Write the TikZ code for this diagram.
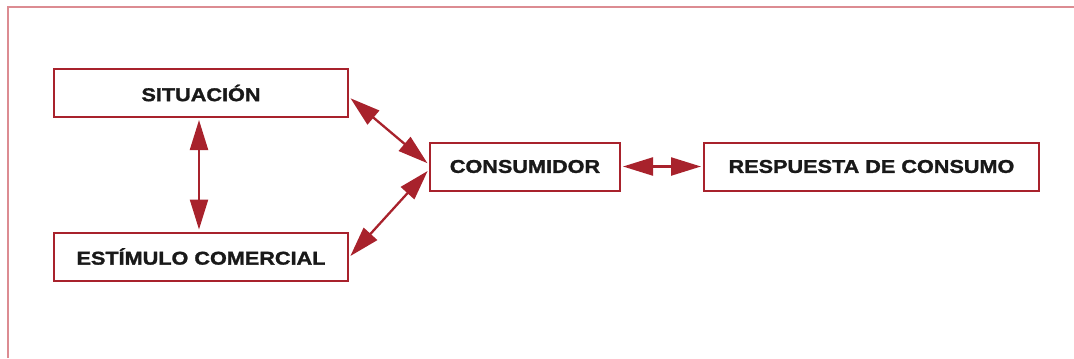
\documentclass[tikz,border=0pt]{standalone}
\usepackage{fontspec}
\setmainfont{Liberation Sans}
\newfontfamily\stagefont[FakeStretch=1.17,FakeBold=1.5]{Liberation Sans Bold}
\usetikzlibrary{arrows.meta}
\definecolor{boxred}{HTML}{A8222C}
\definecolor{framered}{HTML}{DC8C92}
\begin{document}
\begin{tikzpicture}[x=1bp,y=-1bp,
  stage/.style={draw=boxred,line width=2bp,minimum height=48bp,inner sep=0pt,
    font=\stagefont\fontsize{18.5bp}{20bp}\selectfont,text=black!90},
  link/.style={draw=boxred,line width=2.3bp,
    {Triangle[length=30bp,width=18bp]}-{Triangle[length=30bp,width=18bp]},
    shorten <=2bp,shorten >=2bp}]
\useasboundingbox (0,0) rectangle (1074,358);
% open frame
\draw[framered,line width=2bp] (8,358) -- (8,7) -- (1074,7);
% stages
\node[stage,minimum width=294bp] (sit) at (201,93) {SITUACIÓN};
\node[stage,minimum width=294bp] (est) at (201,256.5) {ESTÍMULO COMERCIAL};
\node[stage,minimum width=190bp] (cons) at (525,166.5) {CONSUMIDOR};
\node[stage,minimum width=335bp] (resp) at (871.5,166.5) {RESPUESTA DE CONSUMO};
% links
\draw[link] ([xshift=-2bp]sit.south) -- ([xshift=-2bp]est.north);
\draw[link] ([yshift=-4bp]sit.east) -- ([yshift=2bp]cons.west);
\draw[link] ([yshift=-1bp]est.east) -- ([yshift=-3bp]cons.west);
\draw[link] (cons.east) -- (resp.west);
\end{tikzpicture}
\end{document}
